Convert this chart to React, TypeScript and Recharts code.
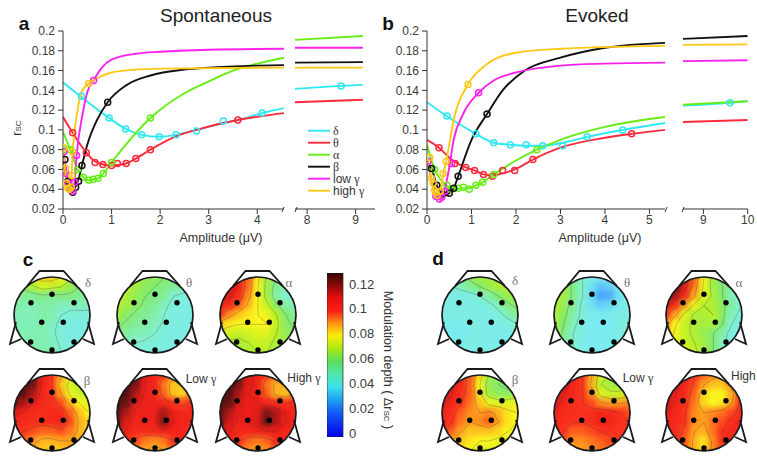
import React from "react";
import { ComposedChart, Line, XAxis, YAxis, Scatter, Bar } from "recharts";

type P = [number, number];
const C = { delta: "#2fe8f2", theta: "#fb2a3c", alpha: "#66ee14", beta: "#111111", low: "#fb22ee", high: "#ffc815" };
const yTicks = [0.02, 0.04, 0.06, 0.08, 0.1, 0.12, 0.14, 0.16, 0.18, 0.2];

const aDeltaC: P[] = [[0,.148],[.36,.134],[.95,.112],[1.29,.101],[1.62,.095],[1.98,.093],[2.33,.095],[2.75,.1],[3.3,.107],[3.6,.11],[4.1,.117],[4.55,.122]];
const aThetaC: P[] = [[0,.113],[.2,.097],[.48,.077],[.66,.068],[.83,.065],[1,.064],[1.3,.066],[1.5,.071],[1.8,.08],[2.3,.093],[2.75,.1],[3.6,.11],[4.55,.117]];
const aAlphaC: P[] = [[0,.098],[.15,.08],[.3,.06],[.4,.053],[.53,.049],[.62,.05],[.72,.051],[.83,.056],[1,.067],[1.8,.112],[2.5,.137],[3,.149],[3.5,.16],[4,.167],[4.55,.173]];
const aBetaC: P[] = [[0,.07],[.05,.055],[.1,.045],[.16,.038],[.2,.037],[.25,.042],[.32,.05],[.39,.064],[.5,.085],[.7,.11],[.92,.128],[1.3,.145],[1.8,.155],[2.5,.161],[3,.163],[4,.165],[4.55,.1655]];
const aLowC: P[] = [[0,.08],[.05,.065],[.1,.05],[.15,.04],[.2,.037],[.24,.047],[.28,.074],[.4,.115],[.5,.138],[.63,.15],[.8,.163],[1,.171],[1.5,.177],[2,.179],[3,.181],[4.55,.182]];
const aHighC: P[] = [[0,.082],[.04,.06],[.08,.046],[.12,.04],[.16,.041],[.2,.078],[.3,.12],[.38,.138],[.53,.147],[.7,.152],[1,.158],[1.5,.161],[2,.162],[4.55,.163]];

const aDeltaM: P[] = [[.38,.134],[.95,.112],[1.29,.101],[1.62,.095],[1.98,.093],[2.33,.095],[2.75,.099],[3.3,.109],[4.1,.117]];
const aThetaM: P[] = [[.2,.097],[.48,.077],[.66,.067],[.82,.065],[1,.064],[1.12,.066],[1.3,.066],[1.5,.071],[1.8,.08],[3.6,.11]];
const aAlphaM: P[] = [[.03,.08],[.15,.08],[.3,.06],[.42,.052],[.53,.049],[.62,.05],[.72,.051],[.83,.056],[1,.067],[1.8,.112]];
const aBetaM: P[] = [[.04,.07],[.1,.048],[.16,.04],[.2,.037],[.26,.042],[.32,.048],[.39,.064],[.92,.128]];
const aLowM: P[] = [[.02,.078],[.06,.056],[.1,.046],[.15,.04],[.2,.038],[.24,.047],[.28,.074],[.63,.15]];
const aHighM: P[] = [[.02,.082],[.05,.061],[.07,.046],[.1,.041],[.13,.04],[.17,.042],[.18,.054],[.2,.078],[.53,.147]];

const bDeltaC: P[] = [[0,.128],[.44,.114],[1.1,.096],[1.5,.087],[1.87,.085],[2.23,.084],[2.6,.084],[3.05,.087],[3.6,.093],[4.4,.1],[5.35,.107]];
const bThetaC: P[] = [[0,.09],[.27,.082],[.55,.07],[.87,.062],[1.07,.059],[1.27,.055],[1.47,.054],[1.7,.056],[1.97,.06],[2.38,.07],[3,.082],[4,.092],[4.6,.096],[5.35,.1]];
const bAlphaC: P[] = [[0,.085],[.17,.06],[.3,.05],[.45,.043],[.6,.04],[.8,.041],[.95,.041],[1.1,.044],[1.25,.047],[1.5,.055],[2,.069],[2.47,.08],[3,.09],[4,.103],[5.35,.113]];
const bBetaC: P[] = [[0,.065],[.1,.061],[.22,.044],[.35,.033],[.5,.036],[.6,.041],[.7,.053],[1,.09],[1.35,.116],[1.7,.14],[2.2,.16],[3,.173],[4,.183],[5.35,.188]];
const bLowC: P[] = [[0,.07],[.1,.05],[.2,.033],[.3,.03],[.4,.04],[.5,.062],[.6,.09],[.8,.115],[1.16,.1375],[1.5,.15],[2,.158],[3,.165],[4,.167],[5.35,.168]];
const bHighC: P[] = [[0,.072],[.05,.06],[.1,.05],[.15,.04],[.2,.035],[.25,.033],[.3,.037],[.37,.056],[.43,.068],[.6,.11],[.92,.146],[1.3,.165],[2,.178],[3,.182],[5.35,.185]];

const bDeltaM: P[] = [[.45,.114],[1.1,.096],[1.5,.087],[1.87,.085],[2.23,.085],[2.6,.084],[3.05,.084],[3.6,.093],[4.4,.1]];
const bThetaM: P[] = [[.27,.082],[.63,.066],[.87,.062],[1.07,.059],[1.27,.055],[1.47,.053],[1.7,.059],[1.97,.059],[2.38,.07],[4.6,.096]];
const bAlphaM: P[] = [[.17,.06],[.45,.044],[.55,.04],[.7,.041],[.82,.042],[.95,.04],[1.1,.044],[1.25,.047],[1.5,.055],[2.47,.08]];
const bBetaM: P[] = [[.1,.061],[.22,.044],[.35,.035],[.5,.036],[.6,.041],[.7,.053],[1.35,.116]];
const bLowM: P[] = [[.02,.068],[.2,.033],[.28,.03],[.33,.032],[.4,.038],[.55,.066],[1.16,.1375]];
const bHighM: P[] = [[.06,.072],[.1,.051],[.14,.046],[.17,.039],[.2,.037],[.23,.034],[.3,.038],[.36,.056],[.43,.068],[.92,.146]];

const aRight: Record<string, P[]> = {
  delta: [[7.75,.1415],[8.7,.1445],[9.15,.1455]], theta: [[7.75,.128],[9.15,.1305]], alpha: [[7.75,.191],[9.15,.195]],
  beta: [[7.75,.168],[9.15,.1685]], low: [[7.75,.183],[9.15,.183]], high: [[7.75,.163],[9.15,.163]],
};
const bRight: Record<string, P[]> = {
  delta: [[8.54,.1245],[9.6,.1275],[10,.129]], theta: [[8.54,.108],[10,.11]], alpha: [[8.54,.1255],[10,.129]],
  beta: [[8.54,.192],[10,.195]], low: [[8.54,.1695],[10,.1705]], high: [[8.54,.186],[10,.1865]],
};
const aRightDot: P[] = [[8.7,.1445]];
const bRightDot: P[] = [[9.6,.1275]];

const legendItems = [["δ", C.delta], ["θ", C.theta], ["α", C.alpha], ["β", C.beta], ["low γ", C.low], ["high γ", C.high]];

const electrodes = [{x:0,y:-20.7},{x:-21,y:-12.3},{x:22,y:-12.3},{x:-10.3,y:7.3},{x:11.3,y:7.3},{x:-21.3,y:27},{x:22,y:27},{x:0,y:35}];
const headCentre = [{ x: 0, y: 0 }];
const nose: P[] = [[-25,-29],[-12.5,-44],[11.5,-44],[25,-29]];
const earL: P[] = [[-36,7],[-42,29],[-31,24]];
const earR: P[] = [[36,7],[42,29],[31,24]];

const cDelta = [[66,72,80,84,84,80,72,64,60],[60,62,68,74,72,70,64,60,58],[56,56,56,58,56,58,58,56,54],[54,53,53,54,54,52,52,52,52],[53,52,52,54,53,50,48,48,48],[53,52,52,54,52,48,46,46,46],[53,53,53,53,51,48,46,46,46],[53,53,53,53,52,49,47,47,47],[54,54,54,54,53,50,48,48,48]];
const cTheta = [[70,70,68,64,62,60,58,58,58],[72,70,66,62,60,58,56,54,54],[72,68,64,60,58,56,50,48,48],[70,66,62,58,56,52,47,46,46],[66,62,58,56,54,50,47,46,46],[62,58,56,54,52,49,47,46,46],[58,55,53,52,50,48,46,46,46],[54,52,50,49,48,47,46,46,46],[52,50,49,48,47,46,46,46,46]];
const cAlpha = [[110,110,105,95,82,68,60,56,54],[115,114,108,95,80,66,56,52,50],[112,112,104,92,80,66,54,50,50],[108,104,96,88,80,72,62,54,52],[100,92,86,82,80,78,70,60,56],[86,82,80,80,80,80,72,62,58],[76,74,72,74,76,76,70,64,60],[70,68,68,70,72,72,68,64,60],[68,66,66,68,70,70,66,62,60]];
const cBeta = [[125,125,125,108,100,90,82,76,72],[128,128,124,108,100,86,76,70,68],[128,126,118,106,100,90,78,72,70],[124,118,110,104,102,98,88,80,76],[112,108,104,102,104,104,96,86,80],[106,104,102,102,104,106,98,88,84],[102,100,98,96,96,98,94,88,84],[98,96,92,88,88,90,90,88,86],[94,92,88,86,84,86,88,88,86]];
const cLow = [[128,128,122,110,106,100,92,92,96],[128,128,122,110,106,94,86,86,92],[128,128,118,108,106,96,86,84,92],[128,124,112,108,108,104,100,98,102],[126,118,108,108,108,118,108,106,106],[122,112,106,108,108,122,110,106,106],[118,108,104,104,106,108,108,106,104],[112,104,98,94,92,94,100,104,104],[108,102,96,90,88,90,96,100,102]];
const cHigh = [[128,128,122,112,108,100,94,94,98],[128,128,122,112,108,94,88,88,94],[128,128,118,110,108,96,88,86,92],[128,124,114,110,110,106,102,100,104],[126,118,110,110,112,122,118,110,106],[122,114,108,110,112,124,118,110,106],[118,110,106,106,108,110,110,106,104],[114,106,100,96,94,96,102,104,104],[110,104,98,92,90,92,98,102,102]];
const dDelta = [[52,54,58,62,66,68,70,72,72],[50,50,52,56,60,64,68,70,70],[48,46,46,46,50,54,60,64,68],[47,46,46,46,46,48,52,58,62],[46,46,46,46,46,46,48,52,56],[46,45,45,46,46,45,45,47,50],[45,44,44,45,46,45,45,45,46],[46,44,45,46,46,45,45,45,46],[46,46,46,46,46,46,46,46,46]];
const dTheta = [[70,66,58,50,46,44,44,46,46],[70,66,58,50,42,36,38,44,46],[70,66,58,50,40,30,32,42,46],[70,64,56,48,42,38,40,44,46],[68,62,54,48,45,44,44,46,46],[68,60,52,46,44,44,44,47,47],[66,58,50,46,44,44,44,46,46],[64,56,50,46,44,44,44,46,46],[62,56,50,46,44,44,44,46,46]];
const dAlpha = [[125,125,115,96,80,66,58,54,52],[128,125,112,94,78,66,60,54,52],[125,118,104,90,76,68,60,52,50],[112,102,90,78,70,68,62,54,50],[100,90,76,68,68,70,62,52,48],[92,80,72,68,66,68,60,50,46],[86,78,72,68,64,60,54,46,44],[82,76,72,70,66,60,52,46,44],[80,76,74,72,66,60,52,46,44]];
const dBeta = [[118,114,105,96,84,68,62,60,62],[118,112,104,96,80,64,60,58,60],[116,110,102,96,82,66,62,62,66],[112,106,100,94,86,78,76,76,78],[108,102,96,92,90,92,88,82,80],[106,100,94,90,92,96,90,82,80],[102,96,90,86,86,86,84,80,78],[96,90,86,82,80,80,78,78,76],[92,86,82,80,76,76,76,76,76]];
const dLow = [[118,116,108,100,90,74,68,68,72],[120,114,106,100,88,70,66,66,72],[118,110,104,100,92,76,72,72,78],[114,106,102,100,98,92,90,90,92],[108,104,102,102,102,106,104,100,98],[106,102,100,100,102,108,106,102,100],[104,100,96,96,98,100,102,100,100],[102,98,92,92,94,96,98,100,100],[100,96,90,90,92,94,96,98,98]];
const dHigh = [[118,114,108,100,96,92,90,94,100],[120,112,106,98,90,86,86,92,100],[118,110,104,96,84,80,80,88,100],[114,108,102,94,84,80,82,90,102],[110,106,100,92,90,92,94,98,104],[108,104,100,92,90,94,98,102,106],[106,104,98,90,88,94,100,104,108],[104,102,96,88,82,92,100,104,106],[102,100,96,88,82,92,98,102,104]];

const barStops: [number, number[]][] = [[0,[0,0,235]],[20,[20,95,245]],[30,[30,165,240]],[40,[60,225,235]],[50,[80,230,170]],[60,[90,222,90]],[70,[170,232,20]],[80,[250,238,10]],[90,[255,150,20]],[100,[250,30,20]],[110,[232,15,15]],[120,[140,10,10]],[130,[50,5,5]]];
const mapStops: [number, number[]][] = [[0,[0,0,235]],[30,[70,165,250]],[36,[95,195,250]],[44,[122,235,240]],[50,[130,240,205]],[60,[130,235,110]],[70,[185,240,40]],[80,[250,245,30]],[90,[255,160,30]],[100,[250,50,30]],[110,[235,30,25]],[117,[190,25,25]],[124,[105,20,20]],[130,[70,15,15]]];
const contourLevels = [50, 60, 70, 80, 90, 100, 110, 120];

function colorOf(v: number) {
  for (let i = 1; i < mapStops.length; i++) {
    const [a, ca] = mapStops[i - 1];
    const [b, cb] = mapStops[i];
    if (v <= b) {
      const t = (v - a) / (b - a);
      return `rgb(${ca.map((c, k) => Math.round(c + (cb[k] - c) * t)).join(",")})`;
    }
  }
  return "rgb(70,15,15)";
}

const toRows = (pts: P[]) => pts.map(([x, y]) => ({ x, y }));
const FONT = "'Liberation Sans', Arial, sans-serif";
const SERIF = "'Liberation Serif', serif";
const AXIS = "#333";
const tick = { fontSize: 12, fontFamily: FONT, fill: "#3a3a3a" };
const W = 757;
const H = 456;
const TOP = 31;
const BOTTOM = 209;

function abs(left: number, top: number): React.CSSProperties {
  return { position: "absolute", left, top };
}

function CurveChart({ from, to, domain, ticks, curves, markers, showY }: { from: number; to: number; domain: number[]; ticks: number[]; curves: [P[], string][]; markers: [P[], string][]; showY: boolean; }) {
  const yW = 40;
  const left = showY ? from - yW - 10 : from - 10;
  const width = to - from + 30 + (showY ? yW : 0);
  return (
    <div style={abs(left, 0)}>
      <ComposedChart width={width} height={240} margin={{ top: TOP, bottom: 240 - BOTTOM - 25, left: 10, right: 20 }}>
        <XAxis type="number" dataKey="x" domain={domain} ticks={ticks} interval={0} allowDataOverflow tick={tick} stroke={AXIS} tickSize={5} height={25} tickMargin={1} />
        <YAxis type="number" domain={[0.02, 0.2]} ticks={yTicks} interval={0} allowDataOverflow hide={!showY} width={yW} tick={tick} stroke={AXIS} tickSize={5} tickMargin={3} tickFormatter={(v: number) => String(v)} />
        {curves.map(([d, c], i) => (
          <Line key={"c" + i} data={toRows(d)} dataKey="y" type="monotone" stroke={c} strokeWidth={1.9} dot={false} isAnimationActive={false} />
        ))}
        {markers.map(([d, c], i) => (
          <Line key={"m" + i} data={toRows(d)} dataKey="y" stroke="none" dot={{ r: 3, fill: "none", stroke: c, strokeWidth: 1.5 }} activeDot={false} isAnimationActive={false} />
        ))}
      </ComposedChart>
    </div>
  );
}

const gridIdx = [0, 1, 2, 3, 4, 5, 6, 7, 8];
const STEP = 9.33;
const cellRows = (grid: number[][]) => gridIdx.flatMap((r) => gridIdx.map((c) => ({ x: (c - 4) * STEP, y: (r - 4) * STEP, v: grid[r][c] })));

function contourRows(grid: number[][]) {
  const rows: { x: number; y: number | null }[] = [];
  const gx = (c: number) => (c - 4) * STEP;
  const cross = (a: number, b: number, L: number) => (L - a) / (b - a);
  for (const L of contourLevels) {
    for (let r = 0; r < 8; r++) {
      for (let c = 0; c < 8; c++) {
        const tl = grid[r][c], tr = grid[r][c + 1], br = grid[r + 1][c + 1], bl = grid[r + 1][c];
        const pts: { x: number; y: number }[] = [];
        if (tl < L !== tr < L) pts.push({ x: gx(c + cross(tl, tr, L)), y: gx(r) });
        if (tr < L !== br < L) pts.push({ x: gx(c + 1), y: gx(r + cross(tr, br, L)) });
        if (bl < L !== br < L) pts.push({ x: gx(c + cross(bl, br, L)), y: gx(r + 1) });
        if (tl < L !== bl < L) pts.push({ x: gx(c), y: gx(r + cross(tl, bl, L)) });
        for (let i = 0; i + 1 < pts.length; i += 2) {
          rows.push(pts[i], pts[i + 1], { x: pts[i + 1].x, y: null });
        }
      }
    }
  }
  return rows;
}

const HeatCell = (p: any) => <rect x={p.cx - 5.5} y={p.cy - 5.5} width={11} height={11} fill={colorOf(p.payload.v)} />;

function Head({ cx, cy, grid }: { cx: number; cy: number; grid: number[][] }) {
  const m = { top: 0, bottom: 0, left: 0, right: 0 };
  const outline = "#1a1a1a";
  const xa = <XAxis type="number" dataKey="x" domain={[-50, 50]} hide allowDataOverflow />;
  const ya = <YAxis type="number" dataKey="y" domain={[-50, 50]} reversed hide allowDataOverflow />;
  return (
    <div style={abs(cx - 50, cy - 50)}>
      <div style={{ position: "absolute", left: 0, top: 0, width: 100, height: 100, clipPath: "circle(38px at 50% 50%)" }}>
        <div style={{ filter: "blur(2.4px)", width: 100, height: 100 }}>
          <ComposedChart width={100} height={100} margin={m}>
            {xa}{ya}
            <Scatter data={cellRows(grid)} dataKey="y" shape={HeatCell} isAnimationActive={false} />
          </ComposedChart>
        </div>
        <div style={{ position: "absolute", left: 0, top: 0, filter: "blur(0.3px)" }}>
          <ComposedChart width={100} height={100} margin={m}>
            {xa}{ya}
            <Line data={contourRows(grid)} dataKey="y" stroke="rgba(50,50,50,0.38)" strokeWidth={0.7} dot={false} activeDot={false} isAnimationActive={false} />
          </ComposedChart>
        </div>
      </div>
      <div style={{ position: "absolute", left: 0, top: 0 }}>
        <ComposedChart width={100} height={100} margin={m}>
          {xa}{ya}
          {[nose, earL, earR].map((d, i) => (
            <Line key={i} data={toRows(d)} dataKey="y" stroke={outline} strokeWidth={1.8} dot={false} activeDot={false} isAnimationActive={false} />
          ))}
          <Scatter data={headCentre} dataKey="y" shape={(p: any) => <circle cx={p.cx} cy={p.cy} r={38} fill="none" stroke={outline} strokeWidth={1.7} />} isAnimationActive={false} />
          <Scatter data={electrodes} dataKey="y" shape={(p: any) => <circle cx={p.cx} cy={p.cy} r={2.7} fill="#000" />} isAnimationActive={false} />
        </ComposedChart>
      </div>
    </div>
  );
}

const barRow = [{ name: "depth", v: [-0.003, 0.1288] }];
const barTicks = [0, 0.02, 0.04, 0.06, 0.08, 0.1, 0.12];

function ColorBar() {
  return (
    <div style={abs(327, 273)}>
      <ComposedChart width={60} height={178} data={barRow} margin={{ top: 0, bottom: 14, left: 0, right: 0 }} barCategoryGap={0}>
        <defs>
          <linearGradient id="depthGrad" x1="0" y1="1" x2="0" y2="0">
            {barStops.map(([v, c]) => (
              <stop key={v} offset={`${(v / 130) * 100}%`} stopColor={`rgb(${c.join(",")})`} />
            ))}
          </linearGradient>
        </defs>
        <XAxis dataKey="name" hide />
        <YAxis orientation="right" type="number" domain={[-0.003, 0.1288]} ticks={barTicks} interval={0} allowDataOverflow width={44} axisLine={false} tickLine={false} tick={{ ...tick, fontSize: 13, textAnchor: "start" }} tickSize={6} tickMargin={0} tickFormatter={(v: number) => String(v)} />
        <Bar dataKey="v" fill="url(#depthGrad)" stroke="#222" strokeWidth={0.7} isAnimationActive={false} />
      </ComposedChart>
    </div>
  );
}

function Label({ x, y, children, size = 12, color = "#333", family = FONT, weight = 400, anchor = "center", rotate = 0 }: any) {
  const tx = anchor === "center" ? "-50%" : "0";
  return (
    <div style={{ position: "absolute", left: x, top: y, transform: `translate(${tx},-50%) rotate(${rotate}deg)`, fontSize: size, color, fontFamily: family, fontWeight: weight, whiteSpace: "nowrap", lineHeight: 1 }}>
      {children}
    </div>
  );
}

const Gk = ({ children }: any) => <span style={{ fontFamily: SERIF }}>{children}</span>;

export default function App() {
  return (
    <div style={{ position: "absolute", left: 0, top: 0, width: W, height: H, overflow: "hidden", background: "#fff", fontFamily: FONT }}>
      <CurveChart from={63} to={284} domain={[0, 4.55]} ticks={[0, 1, 2, 3, 4]} showY curves={[[aDeltaC, C.delta], [aThetaC, C.theta], [aAlphaC, C.alpha], [aBetaC, C.beta], [aLowC, C.low], [aHighC, C.high]]} markers={[[aDeltaM, C.delta], [aThetaM, C.theta], [aAlphaM, C.alpha], [aBetaM, C.beta], [aLowM, C.low], [aHighM, C.high]]} />
      <CurveChart from={295} to={375} domain={[7.75, 9.4]} ticks={[8, 9]} showY={false} curves={[[aRight.delta, C.delta], [aRight.theta, C.theta], [aRight.alpha, C.alpha], [aRight.beta, C.beta], [aRight.low, C.low], [aRight.high, C.high]]} markers={[[aRightDot, C.delta]]} />
      <CurveChart from={427} to={665} domain={[0, 5.35]} ticks={[0, 1, 2, 3, 4, 5]} showY curves={[[bDeltaC, C.delta], [bThetaC, C.theta], [bAlphaC, C.alpha], [bBetaC, C.beta], [bLowC, C.low], [bHighC, C.high]]} markers={[[bDeltaM, C.delta], [bThetaM, C.theta], [bAlphaM, C.alpha], [bBetaM, C.beta], [bLowM, C.low], [bHighM, C.high]]} />
      <CurveChart from={683} to={747.7} domain={[8.54, 10]} ticks={[9, 10]} showY={false} curves={[[bRight.delta, C.delta], [bRight.theta, C.theta], [bRight.alpha, C.alpha], [bRight.beta, C.beta], [bRight.low, C.low], [bRight.high, C.high]]} markers={[[bRightDot, C.delta]]} />

      <svg width={W} height={H} style={{ position: "absolute", left: 0, top: 0, pointerEvents: "none" }}>
        {[[282, 207, 284, 212], [295, 207, 297, 212], [665, 207, 667, 212], [682, 207, 684, 212]].map((s, i) => (
          <line key={i} x1={s[2]} y1={s[1]} x2={s[0]} y2={s[3]} stroke={AXIS} strokeWidth={1} />
        ))}
        {legendItems.map(([, c], i) => (
          <line key={"l" + i} x1={308} x2={330} y1={130.7 + i * 12} y2={130.7 + i * 12} stroke={c} strokeWidth={1.9} />
        ))}
      </svg>

      <Label x={216} y={15} size={19} color="#222">Spontaneous</Label>
      <Label x={597} y={15} size={19} color="#222">Evoked</Label>
      <Label x={24} y={23} size={19} weight={700} color="#111">a</Label>
      <Label x={388} y={23} size={19} weight={700} color="#111">b</Label>
      <Label x={28} y={259} size={19} weight={700} color="#111">c</Label>
      <Label x={438} y={258} size={19} weight={700} color="#111">d</Label>
      <Label x={221} y={238} size={12.5}>Amplitude (μV)</Label>
      <Label x={600} y={238} size={12.5}>Amplitude (μV)</Label>
      <Label x={17} y={128} size={12.5} rotate={-90}>r<span style={{ fontSize: 8 }}>SC</span></Label>
      {legendItems.map(([t], i) => {
        const parts = t.split(" ");
        return (
          <Label key={t} x={333} y={130.7 + i * 12} anchor="start" size={12}>
            {parts.length > 1 ? <>{parts[0]} <Gk>{parts[1]}</Gk></> : <Gk>{t}</Gk>}
          </Label>
        );
      })}

      <Head cx={52} cy={315} grid={cDelta} />
      <Head cx={155} cy={315} grid={cTheta} />
      <Head cx={257.7} cy={315} grid={cAlpha} />
      <Head cx={52} cy={413} grid={cBeta} />
      <Head cx={155} cy={413} grid={cLow} />
      <Head cx={257.7} cy={413} grid={cHigh} />
      <Head cx={480.3} cy={315} grid={dDelta} />
      <Head cx={592.3} cy={315} grid={dTheta} />
      <Head cx={703.7} cy={315} grid={dAlpha} />
      <Head cx={480.3} cy={413} grid={dBeta} />
      <Head cx={592.3} cy={413} grid={dLow} />
      <Head cx={703.7} cy={413} grid={dHigh} />

      <Label x={88} y={282} size={13} family={SERIF} color="#777">δ</Label>
      <Label x={189} y={282} size={13} family={SERIF} color="#777">θ</Label>
      <Label x={289} y={282} size={13} family={SERIF} color="#777">α</Label>
      <Label x={87} y={380} size={13} family={SERIF} color="#777">β</Label>
      <Label x={201} y={379} size={12} color="#333">Low <Gk>γ</Gk></Label>
      <Label x={304} y={378} size={12} color="#333">High <Gk>γ</Gk></Label>
      <Label x={515} y={280} size={13} family={SERIF} color="#777">δ</Label>
      <Label x={627} y={282} size={13} family={SERIF} color="#777">θ</Label>
      <Label x={739} y={282} size={13} family={SERIF} color="#777">α</Label>
      <Label x={515} y={379} size={13} family={SERIF} color="#777">β</Label>
      <Label x={638} y={378} size={12} color="#333">Low <Gk>γ</Gk></Label>
      <Label x={731} y={376} size={12} anchor="start" color="#333">High</Label>

      <ColorBar />
      <Label x={388} y={360} size={12.5} rotate={90}>Modulation depth ( Δr<span style={{ fontSize: 8 }}>SC</span> )</Label>
    </div>
  );
}
